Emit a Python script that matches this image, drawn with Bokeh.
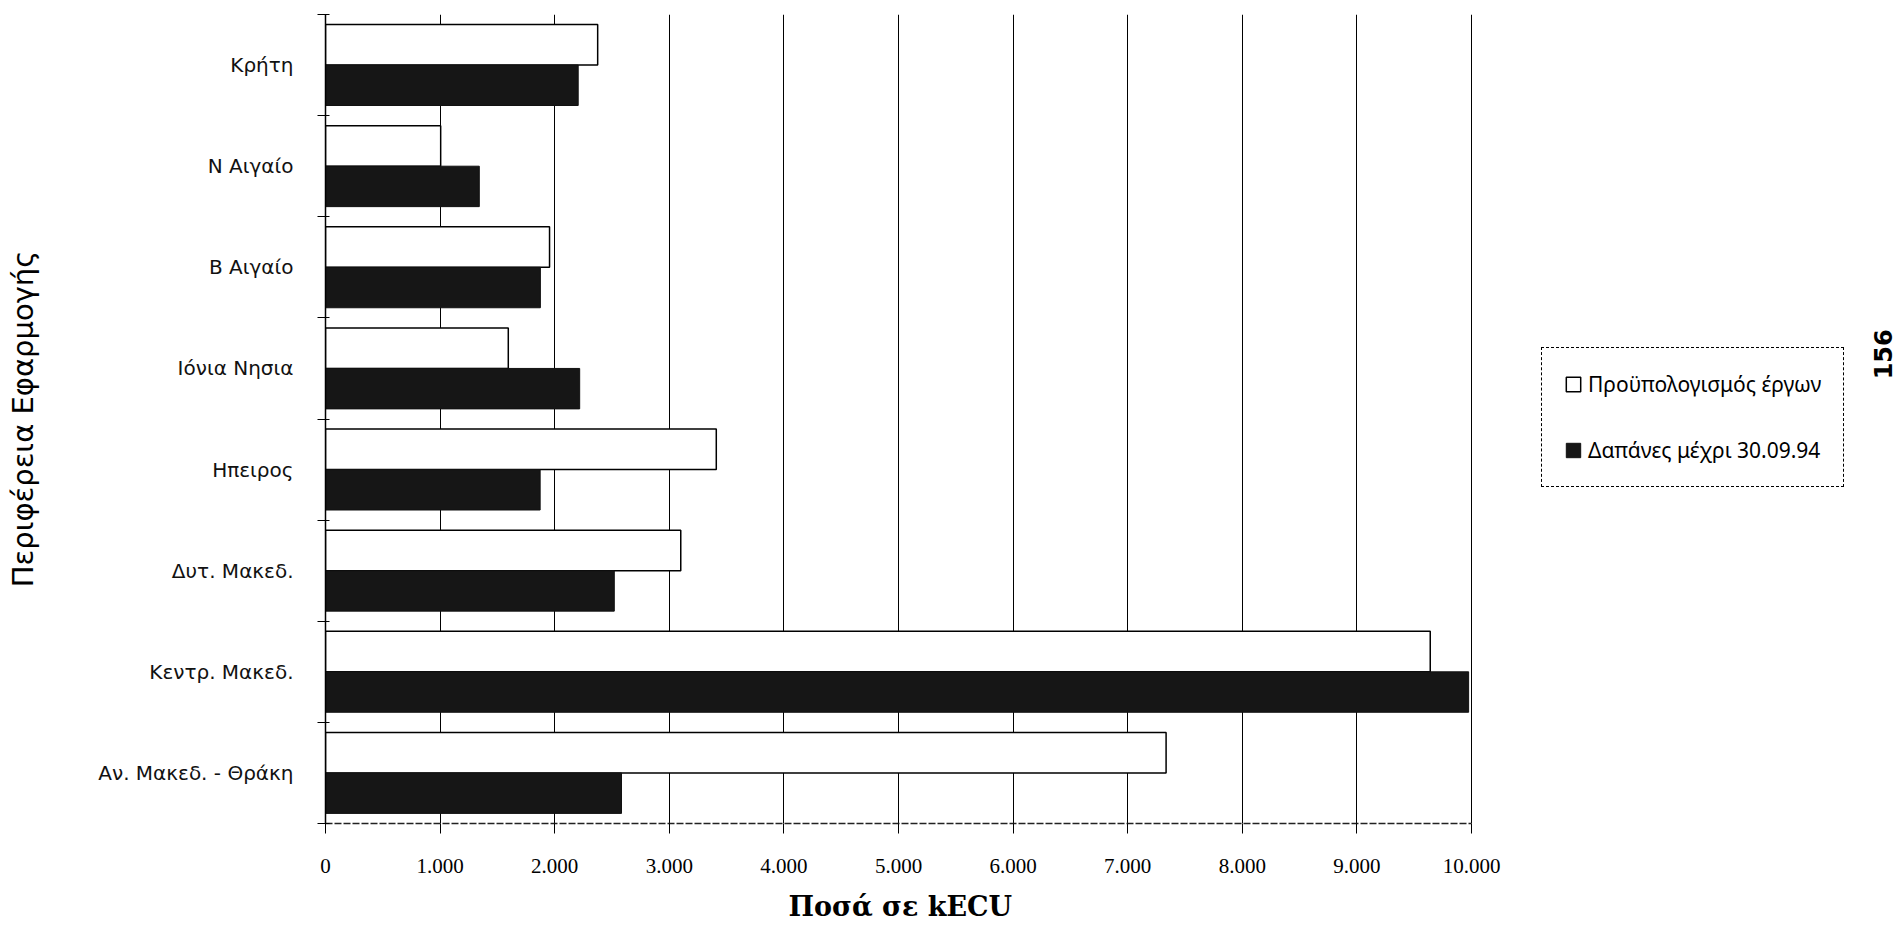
from bokeh.plotting import figure
from bokeh.models import ColumnDataSource, Range1d, FixedTicker, Legend, LegendItem, Label, Title
from bokeh.transform import dodge
from bokeh.embed import file_html
from bokeh.resources import INLINE

categories = ["Κρήτη", "Ν Αιγαίο", "Β Αιγαίο", "Ιόνια Νησια", "Ηπειρος",
              "Δυτ. Μακεδ.", "Κεντρ. Μακεδ.", "Αν. Μακεδ. - Θράκη"]
budget = [2375, 1005, 1955, 1595, 3410, 3100, 9640, 7335]
spent = [2205, 1342, 1875, 2218, 1873, 2520, 9975, 2583]
xticks = [0, 1000, 2000, 3000, 4000, 5000, 6000, 7000, 8000, 9000, 10000]
xtick_labels = ["0", "1.000", "2.000", "3.000", "4.000", "5.000", "6.000",
                "7.000", "8.000", "9.000", "10.000"]
series_names = ["Προϋπολογισμός έργων", "Δαπάνες μέχρι 30.09.94"]
x_title = "Ποσά σε kECU"
y_title = "Περιφέρεια Εφαρμογής"
page_number = "156"

n = len(categories)
ypos = [n - i - 0.5 for i in range(n)]
src = ColumnDataSource(dict(y=ypos, budget=budget, spent=spent, cat=categories))

# frame spans to the right edge so that the legend can sit inside it;
# the value axis itself (line, ticks, grid) stops at 10.000
W, H = 1899, 935
LEFT, TOP, BOTTOM = 325, 14, 112
axis_px = 1146  # pixels used by 0..10.000
x_end = xticks[-1] * (W - LEFT) / axis_px

p = figure(width=W, height=H, output_backend="svg", toolbar_location=None,
           x_range=Range1d(0, x_end), y_range=Range1d(0, n),
           min_border_left=LEFT, min_border_right=0, min_border_top=TOP,
           min_border_bottom=BOTTOM, background_fill_color="white",
           border_fill_color="white")
p.outline_line_color = None

r1 = p.hbar(y=dodge("y", 0.2, range=p.y_range), left=0, right="budget", height=0.4,
            source=src, fill_color="white", line_color="black", line_width=1.5)
r2 = p.hbar(y=dodge("y", -0.2, range=p.y_range), left=0, right="spent", height=0.4,
            source=src, fill_color="#161616", line_color="#111111", line_width=1)

# x axis
p.xaxis.bounds = (xticks[0], xticks[-1])
p.xaxis.ticker = FixedTicker(ticks=xticks)
p.xaxis.major_label_overrides = {t: l for t, l in zip(xticks, xtick_labels)}
p.xaxis.major_label_text_font = "Liberation Serif"
p.xaxis.major_label_text_font_size = "21px"
p.xaxis.major_label_text_color = "black"
p.xaxis.major_tick_in = 0
p.xaxis.major_tick_out = 10
p.xaxis.major_tick_line_color = "black"
p.xaxis.minor_tick_line_color = None
p.xaxis.major_label_standoff = 25
p.xaxis.axis_line_color = "#222222"
p.xaxis.axis_line_width = 1.3
p.xaxis.axis_line_dash = "7 2"

xt = Title(text=x_title, align="left", offset=463, standoff=27,
           text_font="DejaVu Serif", text_font_style="bold",
           text_font_size="27px", text_color="black")
p.add_layout(xt, "below")

# y axis
p.yaxis.ticker = FixedTicker(ticks=ypos, minor_ticks=list(range(0, n + 1)))
p.yaxis.major_label_overrides = {y: c for y, c in zip(ypos, categories)}
p.yaxis.major_label_text_font = "DejaVu Sans"
p.yaxis.major_label_text_font_size = "20px"
p.yaxis.major_label_text_color = "#111111"
p.yaxis.major_tick_line_color = None
p.yaxis.minor_tick_line_color = "black"
p.yaxis.minor_tick_in = 4
p.yaxis.minor_tick_out = 8
p.yaxis.major_label_standoff = 24
p.yaxis.axis_line_color = "black"
p.yaxis.axis_line_width = 1.5
p.yaxis.axis_label = y_title
p.yaxis.axis_label_text_font = "DejaVu Sans"
p.yaxis.axis_label_text_font_style = "normal"
p.yaxis.axis_label_text_font_size = "29px"
p.yaxis.axis_label_text_color = "black"
p.yaxis.axis_label_standoff = 55

# grid
p.xgrid.grid_line_color = "black"
p.xgrid.grid_line_width = 1
p.xgrid.grid_line_alpha = 1
p.ygrid.grid_line_color = None

legend = Legend(items=[LegendItem(label=series_names[0], renderers=[r1]),
                       LegendItem(label=series_names[1], renderers=[r2])],
                location=(1216, 336))
legend.label_text_font = "Noto Sans"
legend.label_text_font_size = "21px"
legend.label_text_color = "black"
legend.label_standoff = 6
legend.glyph_width = 18
legend.glyph_height = 18
legend.spacing = 38
legend.padding = 22
legend.margin = 0
legend.border_line_color = "black"
legend.border_line_dash = "8 3"
legend.border_line_width = 1.4
legend.border_line_alpha = 1
legend.background_fill_alpha = 1
p.add_layout(legend, "center")

page = Label(x=13595, y=4.64, text=page_number, angle=1.5708,
             text_font="DejaVu Sans", text_font_style="bold",
             text_font_size="24px", text_align="center", text_baseline="middle",
             text_color="black")
p.add_layout(page)

open("out.html", "w").write(file_html(p, INLINE))
